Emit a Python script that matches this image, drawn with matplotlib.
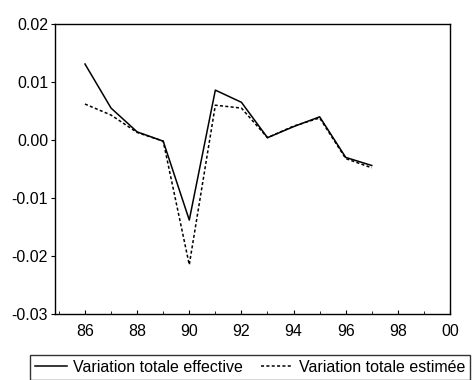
import matplotlib
matplotlib.use("Agg")
import matplotlib.pyplot as plt
from matplotlib.ticker import MultipleLocator, FuncFormatter

plt.rcParams['font.family'] = ['Liberation Sans', 'DejaVu Sans']

years = [86, 87, 88, 89, 90, 91, 92, 93, 94, 95, 96, 97]
effective = [0.0131, 0.0055, 0.0014, -0.0002, -0.0138, 0.0086, 0.0065, 0.0004, 0.0023, 0.0040, -0.0030, -0.0044]
estimee = [0.0062, 0.0043, 0.0013, -0.0002, -0.0215, 0.0060, 0.0055, 0.0004, 0.0024, 0.0038, -0.0032, -0.0048]
labels = ["Variation totale effective", "Variation totale estimée"]

fig = plt.figure(figsize=(4.75, 3.8), dpi=100)
ax = fig.add_axes([55/475, 1-314/380, (450-55)/475, (314-24)/380])

ax.plot(years, effective, color='black', lw=1.1, label=labels[0])
ax.plot(years, estimee, color='black', lw=1.1, linestyle=(0, (2, 1.5)), label=labels[1])

ax.set_xlim(84.85, 100)
ax.set_ylim(-0.03, 0.02)
ax.xaxis.set_major_locator(MultipleLocator(2))
ax.xaxis.set_minor_locator(MultipleLocator(1))
ax.xaxis.set_major_formatter(FuncFormatter(lambda v, p: "%02d" % (int(round(v)) % 100)))
ax.yaxis.set_major_locator(MultipleLocator(0.01))
ax.yaxis.set_major_formatter(FuncFormatter(lambda v, p: "%.2f" % v))
ax.tick_params(axis='x', direction='in', length=3, labelsize=11.5, pad=7, top=False)
ax.tick_params(axis='x', which='minor', direction='in', length=2, top=False)
ax.tick_params(axis='y', direction='out', length=3, labelsize=11.5, pad=2)
for s in ax.spines.values():
    s.set_linewidth(1.0)

fig.legend(loc='upper left', bbox_to_anchor=(30/475, 1-355/380), ncol=2,
           frameon=True, fancybox=False, edgecolor='black', fontsize=11.5,
           handlelength=2.0, handletextpad=0.4, columnspacing=1.1,
           borderpad=0.3, borderaxespad=0)

fig.savefig("out.png", dpi=100)
